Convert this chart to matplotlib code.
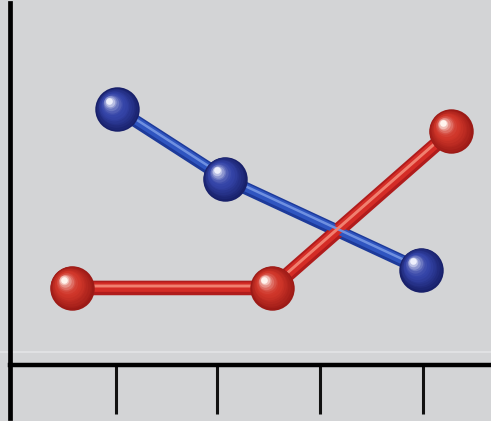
import matplotlib
matplotlib.use("Agg")
import matplotlib.pyplot as plt
import matplotlib.transforms as mtransforms
import numpy as np

# datos
blue_x = [1.04, 2.08, 3.98]
blue_y = [7.0, 5.1, 2.6]
red_x = [0.60, 2.54, 4.27]
red_y = [2.1, 2.1, 6.4]
tick_pos = [1.03, 2.0, 3.0, 4.0]

bg = "#d3d4d6"

fig = plt.figure(figsize=(4.91, 4.21), dpi=100, facecolor=bg)
ax = fig.add_axes([0, 0, 1, 1], facecolor=bg)
ax.set_xlim(-0.0968, 4.656)
ax.set_ylim(-1.55, 10.0)


def shift(dx, dy):
    return mtransforms.offset_copy(ax.transData, fig, x=dx, y=dy, units="points")


def tube(x, y, dark, mid, light, lw):
    ax.plot(x, y, color=dark, lw=lw, solid_capstyle="butt", zorder=2)
    ax.plot(x, y, color=mid, lw=lw * 0.65, solid_capstyle="butt", zorder=2.1,
            transform=shift(0, 0.6))
    ax.plot(x, y, color=light, lw=lw * 0.2, solid_capstyle="butt", zorder=2.2,
            transform=shift(0, 1.4))


def balls(x, y, dark, mid, light, size=32):
    steps = 14
    for k in range(steps):
        t = k / (steps - 1)
        s = size * (1 - 0.85 * t)
        if t < 0.5:
            c = np.array(matplotlib.colors.to_rgb(dark)) * (1 - 2 * t) + \
                np.array(matplotlib.colors.to_rgb(mid)) * (2 * t)
        else:
            u = (t - 0.5) * 2
            c = np.array(matplotlib.colors.to_rgb(mid)) * (1 - u ** 2) + \
                np.array(matplotlib.colors.to_rgb(light)) * u ** 2
        off = (size - s) * 0.22
        ax.plot(x, y, "o", ms=s, color=c, mec="none", zorder=3 + k * 0.01,
                transform=shift(-off, off))


tube(blue_x, blue_y, "#1d3a9a", "#2f55c0", "#6f90e0", 9)
tube(red_x, red_y, "#b01c1c", "#d42c26", "#f08070", 10.5)
balls(blue_x, blue_y, "#18206a", "#3444a8", "#eef0fc")
balls(red_x, red_y, "#9c1a16", "#d0362a", "#fff4ee")

# ejes
for s in ["top", "right"]:
    ax.spines[s].set_visible(False)
ax.spines["left"].set_position(("data", 0))
ax.spines["bottom"].set_position(("data", 0))
ax.spines["left"].set_bounds(-1.47, 9.92)
ax.spines["bottom"].set_bounds(0, 4.656)
ax.spines["left"].set_linewidth(3.4)
ax.spines["bottom"].set_linewidth(3.2)
ax.axhline(0.35, color="#e0e1e3", lw=1.5, zorder=0.5)
ax.set_xticks(tick_pos)
ax.set_yticks([])
ax.tick_params(axis="x", direction="out", length=35, width=2.2, color="#111111",
               labelbottom=False)

fig.savefig("out.png", dpi=100, facecolor=bg)
